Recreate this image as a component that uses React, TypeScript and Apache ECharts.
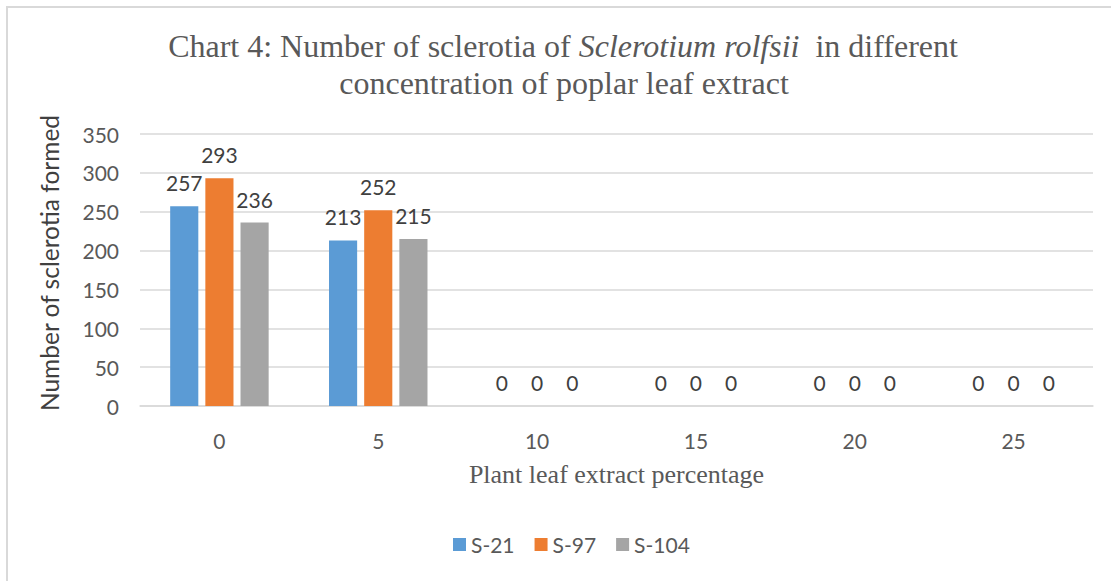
import React, { useEffect, useRef } from "react";
import * as echarts from "echarts";

const categories = ["0", "5", "10", "15", "20", "25"];
const s21 = [257, 213, 0, 0, 0, 0];
const s97 = [293, 252, 0, 0, 0, 0];
const s104 = [236, 215, 0, 0, 0, 0];
const seriesNames = ["S-21", "S-97", "S-104"];
const colors = ["#5B9BD5", "#ED7D31", "#A5A5A5"];
const titleLine1 = "Chart 4: Number of sclerotia of {i|Sclerotium rolfsii}  in different";
const titleLine2 = "concentration of poplar leaf extract";

const SANS = "Lato, 'Noto Sans', sans-serif";
const SERIF = "'Liberation Serif', 'DejaVu Serif', serif";

export default function App() {
  const ref = useRef<HTMLDivElement>(null);
  useEffect(() => {
    const chart = echarts.init(ref.current!, undefined, { renderer: "svg" });
    const label = {
      show: true,
      position: "top" as const,
      distance: 13,
      fontFamily: SANS,
      fontSize: 21,
      color: "#404040",
    };
    const data = [s21, s97, s104];
    const titleStyle = {
      fontFamily: SERIF,
      fontSize: 32,
      fill: "#595959",
      align: "center",
      verticalAlign: "middle",
    };
    chart.setOption({
      animation: false,
      backgroundColor: "#ffffff",
      graphic: [
        {
          type: "rect",
          shape: { x: 7, y: 7, width: 1120, height: 600 },
          style: { fill: "none", stroke: "#d9d9d9", lineWidth: 2 },
          silent: true,
        },
        {
          type: "text",
          x: 563,
          y: 46,
          style: {
            ...titleStyle,
            text: titleLine1,
            rich: {
              i: {
                fontFamily: "Liberation Serif",
                fontStyle: "italic",
                fontSize: 32,
                fill: "#595959",
              },
            },
          },
        },
        {
          type: "text",
          x: 564,
          y: 83,
          style: { ...titleStyle, text: titleLine2 },
        },
      ],
      legend: {
        data: seriesNames,
        top: 529,
        left: 448,
        itemWidth: 13,
        itemHeight: 13,
        itemGap: 20,
        icon: "rect",
        textStyle: { fontFamily: SANS, fontSize: 21, color: "#595959" },
      },
      grid: { left: 140, right: 18, top: 134, bottom: 175, containLabel: false },
      xAxis: {
        type: "category",
        data: categories,
        name: "Plant leaf extract percentage",
        nameLocation: "middle",
        nameGap: 55,
        nameTextStyle: { fontFamily: SERIF, fontSize: 26, color: "#595959" },
        axisLine: { lineStyle: { color: "#d9d9d9", width: 1.5 } },
        axisTick: { show: false },
        axisLabel: { fontFamily: SANS, fontSize: 21, color: "#595959", margin: 24 },
      },
      yAxis: {
        type: "value",
        min: 0,
        max: 350,
        interval: 50,
        name: "Number of sclerotia formed",
        nameLocation: "middle",
        nameGap: 78,
        nameTextStyle: {
          fontFamily: SANS,
          fontSize: 24.5,
          color: "#404040",
          padding: [0, 0, 0, 14],
        },
        axisLine: { show: false },
        axisTick: { show: false },
        axisLabel: { fontFamily: SANS, fontSize: 21, color: "#595959", margin: 21 },
        splitLine: { lineStyle: { color: "#d9d9d9", width: 1.5 } },
      },
      series: seriesNames.map((name, i) => ({
        name,
        type: "bar",
        data: data[i],
        barGap: "25%",
        barCategoryGap: "38%",
        itemStyle: { color: colors[i] },
        label,
      })),
    });
    return () => chart.dispose();
  }, []);
  return (
    <div
      ref={ref}
      style={{ position: "fixed", left: 0, top: 0, width: 1111, height: 581 }}
    />
  );
}
